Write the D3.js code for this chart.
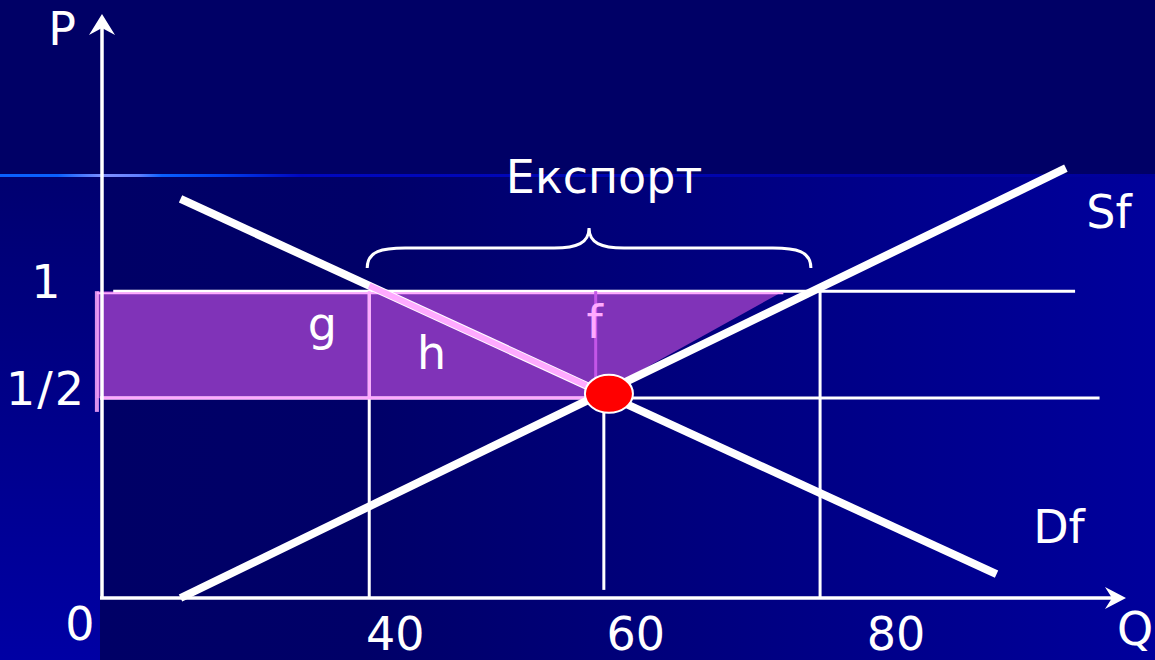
<!DOCTYPE html>
<html>
<head>
<meta charset="utf-8">
<script src="https://cdn.jsdelivr.net/npm/d3@7"></script>
<style>
  html, body { margin: 0; padding: 0; background: #000066; overflow: hidden; }
  text { font-family: "DejaVu Sans", Verdana, sans-serif; fill: #ffffff; }
</style>
</head>
<body>
<div id="chart"></div>
<script>
// schematic units: Q and P both run 0..100 along the drawn axes
var qGuides = [26.2, 49.2, 70.4];          // vertical guides under 40, 60, 80
var qLabels = ["40", "60", "80"];
var qLabelShift = [26, 32, 76];
var qGuideTop = [52.9, 34.5, 52.9];
var qGuideBottom = [0, 1.4, 0];
var pLevels = [52.9, 34.5];                // world price 1 and domestic price 1/2
var pLabels = ["1", "1/2"];
var pLineFrom = [1.1, -0.2];
var pLineTo = [95.4, 97.8];
var demand = [[7.7, 68.8], [87.7, 4.1]];
var supply = [[7.7, 0], [94.5, 74.1]];
var equilibrium = [49.7, 35.2];
var surplus = [[-0.5, 52.9], [66.8, 52.9], [48.9, 35.4], [48.9, 34.5], [-0.5, 34.5]];
var exportSpan = [26.0, 69.5];             // bracket ends
var areaLabels = [
    { t: "g", q: 21.6, p: 44.5, c: "#ffffff" },
    { t: "h", q: 32.3, p: 39.5, c: "#ffffff" },
    { t: "f", q: 48.3, p: 44.8, c: "#ffaaff" }
];

function init() {
    var W = 1155, H = 660;
    var x0 = 102, y0 = 598;

    var x = d3.scaleLinear().domain([0, 100]).range([x0, 1122]);
    var y = d3.scaleLinear().domain([0, 100]).range([y0, 18]);

    var svg = d3.select("#chart").append("svg")
        .attr("width", W)
        .attr("height", H);

    var defs = svg.append("defs");
    var bg = defs.append("linearGradient").attr("id", "bgGrad")
        .attr("x1", "0").attr("x2", "1").attr("y1", "0").attr("y2", "0");
    bg.append("stop").attr("offset", "0").attr("stop-color", "#000066");
    bg.append("stop").attr("offset", "0.25").attr("stop-color", "#000068");
    bg.append("stop").attr("offset", "1").attr("stop-color", "#00009c");

    var side = defs.append("linearGradient").attr("id", "sideGrad")
        .attr("x1", "0").attr("x2", "0").attr("y1", "0").attr("y2", "1");
    side.append("stop").attr("offset", "0").attr("stop-color", "#000070");
    side.append("stop").attr("offset", "1").attr("stop-color", "#0000a4");

    var glow = defs.append("linearGradient").attr("id", "glow")
        .attr("gradientUnits", "userSpaceOnUse")
        .attr("x1", 0).attr("x2", W).attr("y1", 0).attr("y2", 0);
    glow.append("stop").attr("offset", "0").attr("stop-color", "#0a60ff");
    glow.append("stop").attr("offset", "0.05").attr("stop-color", "#0a60ff");
    glow.append("stop").attr("offset", "0.09").attr("stop-color", "#8090ff");
    glow.append("stop").attr("offset", "0.12").attr("stop-color", "#6080ff");
    glow.append("stop").attr("offset", "0.14").attr("stop-color", "#0a60ff");
    glow.append("stop").attr("offset", "0.19").attr("stop-color", "#0040f0");
    glow.append("stop").attr("offset", "0.26").attr("stop-color", "#0008c0");
    glow.append("stop").attr("offset", "1").attr("stop-color", "#000099");

    // slide background
    svg.append("rect").attr("width", W).attr("height", H).attr("fill", "#000066");
    svg.append("rect").attr("x", 100).attr("y", 176).attr("width", W - 100).attr("height", H - 176)
        .attr("fill", "url(#bgGrad)");
    svg.append("rect").attr("x", 0).attr("y", 176).attr("width", 100).attr("height", H - 176)
        .attr("fill", "url(#sideGrad)");
    svg.append("rect").attr("x", 0).attr("y", 174).attr("width", W).attr("height", 3)
        .attr("fill", "url(#glow)");

    var line = d3.line()
        .x(function(d) { return x(d[0]); })
        .y(function(d) { return y(d[1]); });

    // export surplus area
    svg.append("path")
        .attr("d", line(surplus) + "Z")
        .attr("fill", "#8033b8");

    // price levels
    svg.selectAll("line.plevel")
        .data(pLevels)
        .enter().append("line")
        .attr("class", "plevel")
        .attr("x1", function(d, i) { return x(pLineFrom[i]); })
        .attr("x2", function(d, i) { return x(pLineTo[i]); })
        .attr("y1", function(d) { return y(d); })
        .attr("y2", function(d) { return y(d); })
        .attr("stroke", "#ffffff")
        .attr("stroke-width", 3);

    // quantity guides
    svg.selectAll("line.qguide")
        .data(qGuides)
        .enter().append("line")
        .attr("class", "qguide")
        .attr("x1", function(d) { return x(d); })
        .attr("x2", function(d) { return x(d); })
        .attr("y1", function(d, i) { return y(qGuideTop[i]); })
        .attr("y2", function(d, i) { return y(qGuideBottom[i]); })
        .attr("stroke", "#ffffff")
        .attr("stroke-width", 3);

    // pink outline of the shaded block
    var pink = "#ffaaff";
    svg.append("line")
        .attr("x1", x(surplus[0][0])).attr("x2", x(surplus[0][0]))
        .attr("y1", y(pLevels[0])).attr("y2", y(pLevels[1]) + 14)
        .attr("stroke", pink).attr("stroke-width", 4).attr("opacity", 0.85);
    svg.append("line")
        .attr("x1", x(surplus[0][0])).attr("x2", x(surplus[1][0]))
        .attr("y1", y(pLevels[0]) + 2).attr("y2", y(pLevels[0]) + 2)
        .attr("stroke", pink).attr("stroke-width", 2);
    svg.append("line")
        .attr("x1", x(pLineFrom[1])).attr("x2", x(equilibrium[0]))
        .attr("y1", y(pLevels[1])).attr("y2", y(pLevels[1]))
        .attr("stroke", pink).attr("stroke-width", 3);
    svg.append("line")
        .attr("x1", x(qGuides[0])).attr("x2", x(qGuides[0]))
        .attr("y1", y(pLevels[0])).attr("y2", y(pLevels[1]))
        .attr("stroke", pink).attr("stroke-width", 3);
    svg.append("line")
        .attr("x1", x(48.4)).attr("x2", x(48.4))
        .attr("y1", y(pLevels[0])).attr("y2", y(equilibrium[1]))
        .attr("stroke", "#c455e8").attr("stroke-width", 3);

    // demand and supply
    svg.append("path").attr("d", line(demand))
        .attr("stroke", "#ffffff").attr("stroke-width", 8).attr("fill", "none");
    svg.append("path").attr("d", line(supply))
        .attr("stroke", "#ffffff").attr("stroke-width", 8).attr("fill", "none");

    // demand segment between the two prices
    var slope = (demand[1][1] - demand[0][1]) / (demand[1][0] - demand[0][0]);
    var pAt = function(q) { return demand[0][1] + slope * (q - demand[0][0]); };
    var qAt = function(p) { return demand[0][0] + (p - demand[0][1]) / slope; };
    svg.append("path")
        .attr("d", line([[qGuides[0], pAt(qGuides[0])], [qAt(equilibrium[1]), equilibrium[1]]]))
        .attr("stroke", pink).attr("stroke-width", 6).attr("fill", "none");

    // axes
    svg.append("line").attr("x1", x0).attr("x2", x0).attr("y1", y0).attr("y2", 24)
        .attr("stroke", "#ffffff").attr("stroke-width", 3.5);
    svg.append("line").attr("x1", x0 - 2).attr("x2", 1115).attr("y1", y0).attr("y2", y0)
        .attr("stroke", "#ffffff").attr("stroke-width", 3.5);
    svg.append("path")
        .attr("d", "M" + x0 + ",14 L" + (x0 + 13) + ",35 L" + x0 + ",28 L" + (x0 - 13) + ",35 Z")
        .attr("fill", "#ffffff");
    svg.append("path")
        .attr("d", "M1126," + y0 + " L1105," + (y0 - 11) + " L1112," + y0 + " L1105," + (y0 + 11) + " Z")
        .attr("fill", "#ffffff");

    // equilibrium point
    svg.append("ellipse")
        .attr("cx", x(equilibrium[0])).attr("cy", y(equilibrium[1]))
        .attr("rx", 24).attr("ry", 19)
        .attr("fill", "#ff0000")
        .attr("stroke", "#ffffff").attr("stroke-width", 2);

    // export bracket
    var bx1 = x(exportSpan[0]), bx2 = x(exportSpan[1]), bm = (bx1 + bx2) / 2;
    var by = 268, bf = 248, bt = 228;
    svg.append("path")
        .attr("d", "M" + bx1 + "," + by + " C" + bx1 + "," + (bf + 3) + " " + (bx1 + 15) + "," + bf + " " + (bx1 + 38) + "," + bf +
                   " L" + (bm - 35) + "," + bf + " C" + (bm - 12) + "," + bf + " " + bm + "," + (bf - 5) + " " + bm + "," + bt +
                   " C" + bm + "," + (bf - 5) + " " + (bm + 12) + "," + bf + " " + (bm + 35) + "," + bf +
                   " L" + (bx2 - 38) + "," + bf + " C" + (bx2 - 15) + "," + bf + " " + bx2 + "," + (bf + 3) + " " + bx2 + "," + by)
        .attr("fill", "none")
        .attr("stroke", "#ffffff")
        .attr("stroke-width", 3);

    var fs = 46;
    svg.append("text").attr("x", bm + 15).attr("y", 193).attr("text-anchor", "middle")
        .attr("font-size", fs).text("Експорт");

    // axis labels
    svg.append("text").attr("x", 62).attr("y", 45).attr("text-anchor", "middle").attr("font-size", fs).text("P");
    svg.append("text").attr("x", 1135).attr("y", 645).attr("text-anchor", "middle").attr("font-size", fs).text("Q");
    svg.append("text").attr("x", 80).attr("y", 640).attr("text-anchor", "middle").attr("font-size", fs).text("0");

    svg.selectAll("text.qlab")
        .data(qLabels)
        .enter().append("text")
        .attr("class", "qlab")
        .attr("x", function(d, i) { return x(qGuides[i]) + qLabelShift[i]; })
        .attr("y", 650)
        .attr("text-anchor", "middle")
        .attr("font-size", fs)
        .text(function(d) { return d; });

    svg.selectAll("text.plab")
        .data(pLabels)
        .enter().append("text")
        .attr("class", "plab")
        .attr("x", 46)
        .attr("y", function(d, i) { return y(pLevels[i]) + 7; })
        .attr("text-anchor", "middle")
        .attr("font-size", fs)
        .attr("letter-spacing", function(d) { return d.length > 1 ? 2 : 0; })
        .text(function(d) { return d; });

    svg.selectAll("text.area")
        .data(areaLabels)
        .enter().append("text")
        .attr("class", "area")
        .attr("x", function(d) { return x(d.q); })
        .attr("y", function(d) { return y(d.p); })
        .attr("text-anchor", "middle")
        .attr("font-size", fs)
        .style("fill", function(d) { return d.c; })
        .text(function(d) { return d.t; });

    svg.append("text").attr("x", 1109).attr("y", 228).attr("text-anchor", "middle").attr("font-size", fs).text("Sf");
    svg.append("text").attr("x", 1059).attr("y", 543).attr("text-anchor", "middle").attr("font-size", fs).text("Df");
}

window.addEventListener("load", init);
</script>
</body>
</html>
